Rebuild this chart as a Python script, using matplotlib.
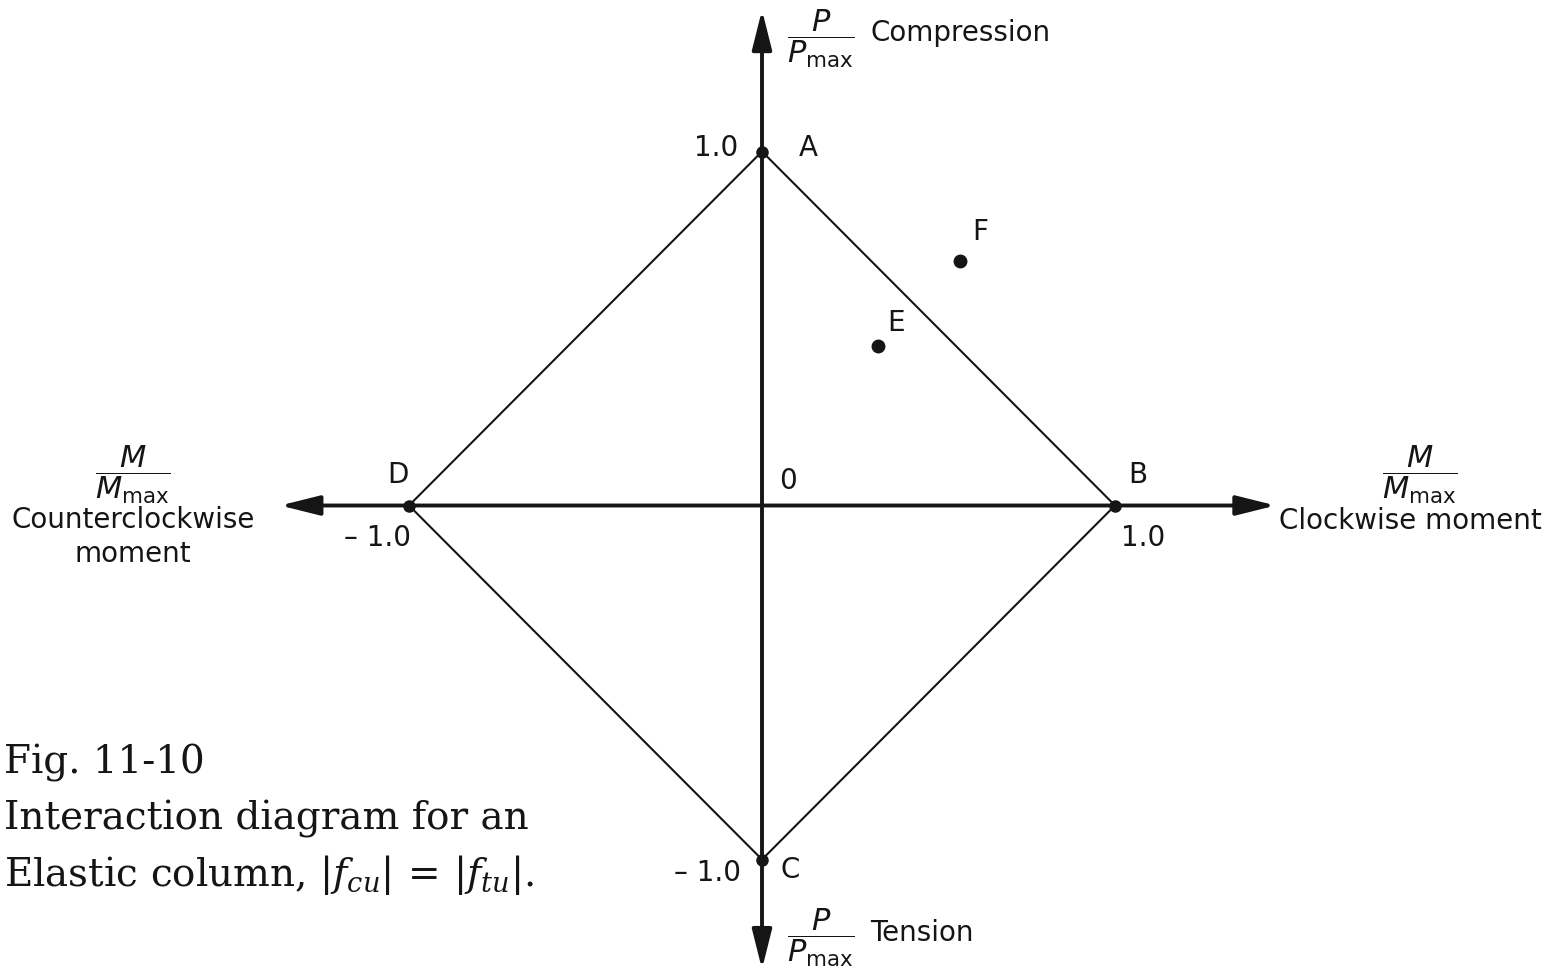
import matplotlib
matplotlib.use("Agg")
import matplotlib.pyplot as plt

plt.rcParams['font.family'] = ['DejaVu Sans']

# interaction diagram corners (M/Mmax, P/Pmax)
corner_names = ["A", "B", "C", "D"]
corner_m = [0.0, 1.0, 0.0, -1.0]
corner_p = [1.0, 0.0, -1.0, 0.0]

# load states inside / outside the envelope
state_names = ["E", "F"]
state_m = [0.33, 0.56]
state_p = [0.45, 0.69]

INK = "#151515"

fig = plt.figure(figsize=(15.66, 9.75), dpi=100)
ax = fig.add_axes([0, 0, 1, 1])
ax.set_xlim(-762 / 353, 804 / 353)
ax.set_ylim(-469.5 / 354, 505.5 / 354)
ax.axis("off")

# axes with arrow heads at both ends
arrow = dict(arrowstyle="<|-|>,head_length=2.0,head_width=0.5", mutation_scale=12,
             lw=2.8, color=INK, shrinkA=0, shrinkB=0)
ax.annotate("", xy=(0, 1.40), xytext=(0, -1.31), arrowprops=arrow)
ax.annotate("", xy=(1.455, 0), xytext=(-1.365, 0), arrowprops=arrow)

# diamond envelope
ax.plot(corner_m + corner_m[:1], corner_p + corner_p[:1], color=INK, lw=1.5,
        solid_joinstyle="miter")
ax.plot(corner_m, corner_p, "o", color=INK, ms=8)
ax.plot(state_m, state_p, "o", color=INK, ms=9)

txt = dict(fontsize=20, color=INK)

# corner and point letters
ax.text(0.13, 1.01, corner_names[0], ha="center", va="center", **txt)
ax.text(1.065, 0.085, corner_names[1], ha="center", va="center", **txt)
ax.text(0.079, -1.03, corner_names[2], ha="center", va="center", **txt)
ax.text(-1.031, 0.085, corner_names[3], ha="center", va="center", **txt)
ax.text(state_m[0] + 0.05, state_p[0] + 0.065, state_names[0], ha="center", va="center", **txt)
ax.text(state_m[1] + 0.058, state_p[1] + 0.082, state_names[1], ha="center", va="center", **txt)

# scale values
ax.text(-0.068, 1.01, "1.0", ha="right", va="center", **txt)
ax.text(0.074, 0.068, "0", ha="center", va="center", **txt)
ax.text(-1.088, -0.093, "\u2013 1.0", ha="center", va="center", **txt)
ax.text(1.079, -0.093, "1.0", ha="center", va="center", **txt)
ax.text(-0.153, -1.037, "\u2013 1.0", ha="center", va="center", **txt)

# axis titles
pfrac = r"$\dfrac{P}{P_{\mathrm{max}}}$"
mfrac = r"$\dfrac{M}{M_{\mathrm{max}}}$"
frac = dict(fontsize=22, color=INK, ha="center", va="center", math_fontfamily="dejavusans")
ax.text(0.166, 1.318, pfrac, **frac)
ax.text(0.306, 1.335, "Compression", ha="left", va="center", **txt)
ax.text(0.166, -1.222, pfrac, **frac)
ax.text(0.306, -1.208, "Tension", ha="left", va="center", **txt)
ax.text(1.864, 0.088, mfrac, **frac)
ax.text(1.836, -0.045, "Clockwise moment", ha="center", va="center", **txt)
ax.text(-1.782, 0.088, mfrac, **frac)
ax.text(-1.782, -0.042, "Counterclockwise", ha="center", va="center", **txt)
ax.text(-1.782, -0.138, "moment", ha="center", va="center", **txt)

# caption, left-aligned block in the lower-left corner
cap = dict(fontsize=28, color=INK, family=["DejaVu Serif"], ha="left", va="baseline")
H = 975
x0 = 4 / 1566
fig.text(x0, 1 - 773 / H, "Fig. 11-10", **cap)
fig.text(x0, 1 - 830 / H, "Interaction diagram for an", **cap)
fig.text(x0, 1 - 886 / H, r"Elastic column, $|f_{cu}|\,=\,|f_{tu}|$.",
         math_fontfamily="dejavuserif", **cap)

fig.savefig("out.png", dpi=100)
